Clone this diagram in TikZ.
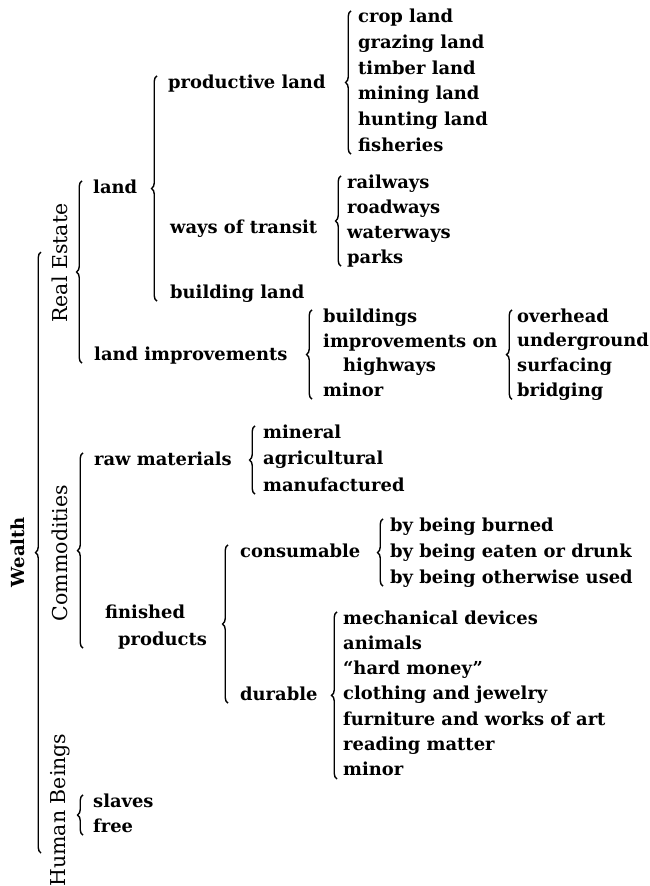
\documentclass[tikz,border=0pt]{standalone}
\usepackage{fontspec}
\setmainfont{DejaVu Serif}
\usetikzlibrary{decorations.pathreplacing,calc}

\tikzset{
  item/.style={anchor=base west, inner sep=0pt, font=\bfseries\fontsize{17.9}{21}\selectfont, text height=12pt, text depth=3pt},
  side/.style={rotate=90, inner sep=0pt, font=\fontsize{20.5}{23}\selectfont},
  brc/.style={decorate, decoration={brace, amplitude=5.5pt}, line width=1.4pt}
}

\begin{document}
\begin{tikzpicture}[x=1pt,y=1pt]
                \useasboundingbox (0,0) rectangle (650,-886);

                % Main heads
                \node[side, font=\bfseries\fontsize{18}{22}\selectfont] (wealth) at (18,-552) {Wealth};
                \node[side] (realest) at (60,-263) {Real Estate};
                \node[side] (commod) at (60,-553) {Commodities};
                \node[side] (human) at (60,-810) {Human Beings};
                \coordinate (wtop) at (41,-252);
                \coordinate (wbot) at (41,-853);
                \draw[brc] (wbot) -- (wtop);

                % Real estate
                \node[item] (land) at (93,-193) {land};
                \node[item] (limp) at (94,-360) {land improvements};
                \node[item] (prod) at (168,-88) {productive land};
                \node[item] (ways) at (170,-233) {ways of transit};
                \node[item] (bland) at (170,-298) {building land};
                \foreach \t [count=\i] in {crop land, grazing land, timber land, mining land, hunting land, fisheries} {
                    \node[item] (crop\i) at (358,{-23-25.6*(\i-1)}) {\t};
                }
                \foreach \t [count=\i] in {railways, roadways, waterways, parks} {
                    \node[item] (rail\i) at (347,{-188-25*(\i-1)}) {\t};
                }
                \node[item] (bldg) at (323,-322) {buildings};
                \node[item] (impr) at (323,-347) {improvements on};
                \node[item] (hway) at (343,-371) {highways};
                \node[item] (minr) at (323,-396) {minor};
                \foreach \t [count=\i] in {overhead, underground, surfacing, bridging} {
                    \node[item] (over\i) at (517,{-322-24.7*(\i-1)}) {\t};
                }
                \draw[brc] ($(land.west |- limp.south)+(-11,0)$) -- ($(land.north west)+(-11,0)$);
                \draw[brc] ($(prod.west |- bland.south)+(-11,0)$) -- ($(prod.north west)+(-11,0)$);
                \draw[brc] ($(crop6.south west)+(-7,0)$) -- ($(crop1.north west)+(-7,0)$);
                \draw[brc] ($(rail4.south west)+(-6,0)$) -- ($(rail1.north west)+(-6,0)$);
                \draw[brc] ($(minr.south west)+(-11,0)$) -- ($(bldg.north west)+(-11,0)$);
                \draw[brc] ($(over4.south west)+(-5,0)$) -- ($(over1.north west)+(-5,0)$);

                % Commodities
                \node[item] (raw) at (94,-465) {raw materials};
                \node[item] (fin) at (105,-618) {finished};
                \node[item] (prods) at (118,-645) {products};
                \node[item] (cons) at (240,-557) {consumable};
                \node[item] (dur) at (240,-700) {durable};
                \foreach \t [count=\i] in {mineral, agricultural, manufactured} {
                    \node[item] (min\i) at (263,{-438-26.5*(\i-1)}) {\t};
                }
                \foreach \t [count=\i] in {by being burned, by being eaten or drunk, by being otherwise used} {
                    \node[item] (by\i) at (390,{-531-26*(\i-1)}) {\t};
                }
                \foreach \t [count=\i] in {mechanical devices, animals, ``hard money'', clothing and jewelry, furniture and works of art, reading matter, minor} {
                    \node[item] (dur\i) at (343,{-624-25.3*(\i-1)}) {\t};
                }
                \draw[brc] ($(raw.west |- prods.south)+(-11,0)$) -- ($(raw.north west)+(-11,0)$);
                \draw[brc] ($(min3.south west)+(-8,0)$) -- ($(min1.north west)+(-8,0)$);
                \draw[brc] ($(cons.west |- dur.south)+(-12,0)$) -- ($(cons.north west)+(-12,0)$);
                \draw[brc] ($(by3.south west)+(-7,0)$) -- ($(by1.north west)+(-7,0)$);
                \draw[brc] ($(dur7.south west)+(-6,0)$) -- ($(dur1.north west)+(-6,0)$);

                % Human beings
                \node[item] (slave) at (93,-807) {slaves};
                \node[item] (free) at (93,-832) {free};
                \draw[brc] ($(free.south west)+(-10,0)$) -- ($(slave.north west)+(-10,0)$);
\end{tikzpicture}
\end{document}
